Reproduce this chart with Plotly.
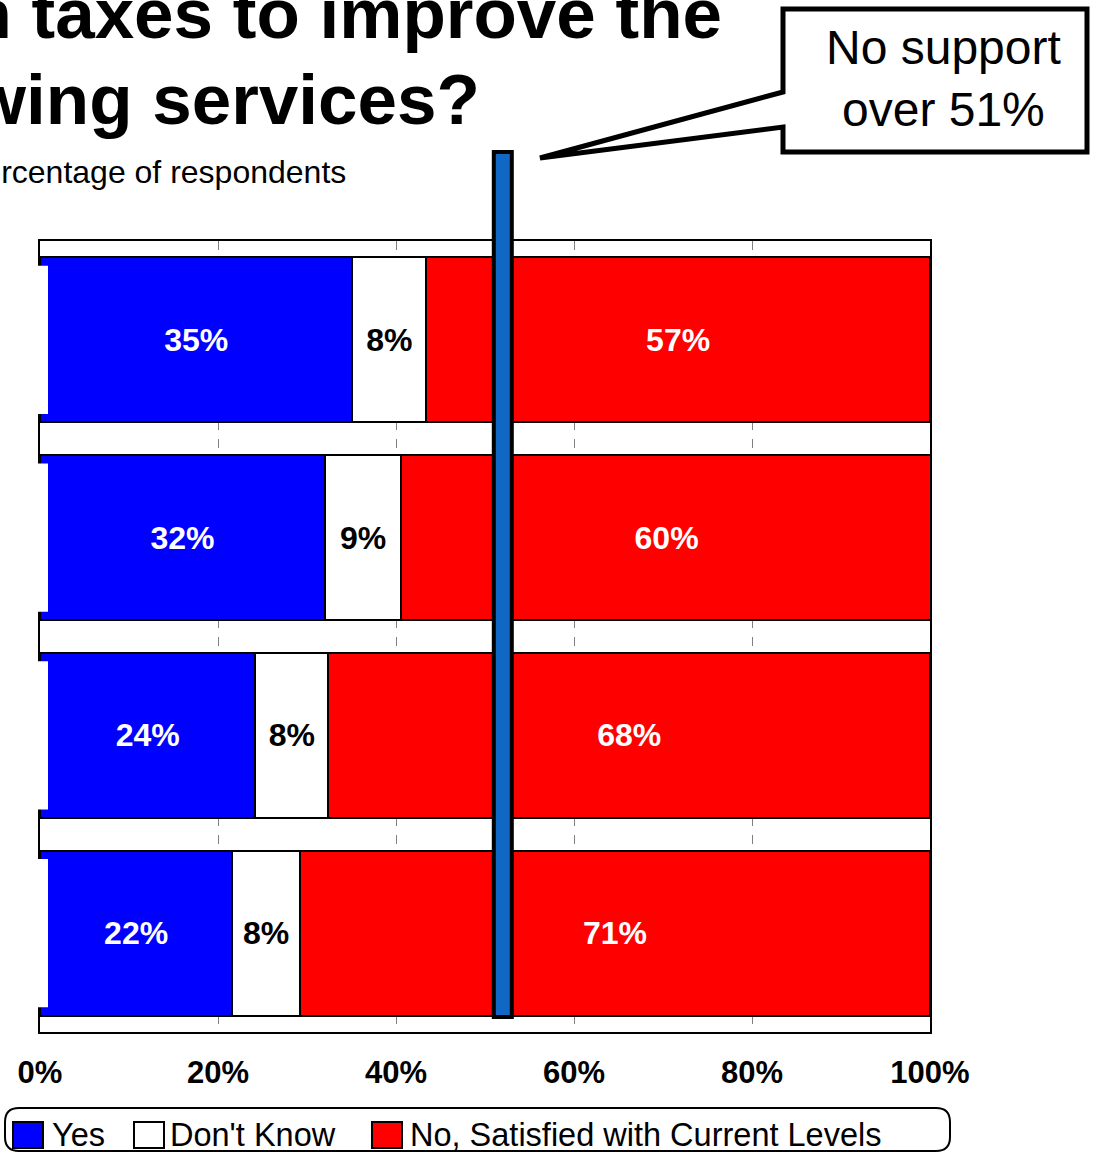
import plotly.graph_objects as go

# ---------------- data ----------------
CATEGORIES = ["Service 1", "Service 2", "Service 3", "Service 4"]
SERIES = ["Yes", "Don't Know", "No, Satisfied with Current Levels"]
YES = [35.1, 32.0, 24.2, 21.6]
DONT_KNOW = [8.3, 8.6, 8.2, 7.6]
NO = [56.6, 59.6, 67.6, 70.8]
COLORS = ["#0000FF", "#FFFFFF", "#FF0000"]
TEXT_COLORS = ["#FFFFFF", "#000000", "#FFFFFF"]
TICK_VALS = [0, 20, 40, 60, 80, 100]
TICK_TEXT = ["0%", "20%", "40%", "60%", "80%", "100%"]
THRESHOLD = 52  # position of the vertical marker line (percent)
TITLE_1 = "Would you support an increase in taxes to improve the"
TITLE_2 = "following services?"
SUBTITLE = "Percentage of respondents"
CALLOUT = "No support<br>over 51%"

FONT = "Liberation Sans, Arial, sans-serif"

# ---------------- geometry helpers (pixel -> paper) ----------------
W, H = 1099, 1153
L, R, T, B = 40, 930, 241, 1032
PW, PH = R - L, B - T


def px(x):
    return (x - L) / PW


def py(y):
    return (B - y) / PH


fig = go.Figure()
for name, vals, col, tcol in zip(SERIES, [YES, DONT_KNOW, NO], COLORS, TEXT_COLORS):
    fig.add_trace(go.Bar(
        name=name, y=CATEGORIES, x=vals, orientation="h",
        marker=dict(color=col, line=dict(color="black", width=2)),
        texttemplate="%{x:.0f}%", textposition="inside",
        insidetextanchor="middle", constraintext="none",
        textfont=dict(family=FONT, size=32, color=tcol, weight="bold"),
        showlegend=False, width=0.835,
    ))

fig.update_layout(
    barmode="stack",
    width=W, height=H,
    margin=dict(l=L, r=W - R, t=T, b=H - B, pad=0),
    paper_bgcolor="white", plot_bgcolor="white",
    font=dict(family=FONT, color="black"),
    xaxis=dict(range=[0, 100], tickvals=TICK_VALS, ticktext=TICK_TEXT,
               tickfont=dict(family=FONT, size=31, weight="bold", color="black"),
               showgrid=True, gridcolor="#808080", griddash="dash", gridwidth=1,
               showline=True, linecolor="black", linewidth=2, mirror=True,
               ticks="", ticklabelstandoff=12, zeroline=False),
    yaxis=dict(categoryorder="array", categoryarray=CATEGORIES, autorange="reversed",
               range=[3.5, -0.5], showticklabels=False, ticks="",
               showline=True, linecolor="black", linewidth=2, mirror=True,
               showgrid=False, zeroline=False),
)

shapes = []
# white patches covering the left edge of the bars
for i, c in enumerate(CATEGORIES):
    shapes.append(dict(type="rect", xref="paper", yref="y", x0=px(38), x1=px(48),
                       y0=i - 0.375, y1=i + 0.375, fillcolor="white",
                       line=dict(width=0), layer="above"))

# vertical threshold line
half = 9 / PW
shapes.append(dict(type="rect", xref="paper", yref="paper",
                   x0=THRESHOLD / 100 - half, x1=THRESHOLD / 100 + half,
                   y0=py(1017), y1=py(152), fillcolor="#1068C4",
                   line=dict(color="black", width=4), layer="above"))

# callout box with pointer
pts = [(783, 9), (1087, 9), (1087, 152), (783, 152), (783, 127), (540, 158), (783, 92)]
path = "M " + " L ".join(f"{px(x):.5f},{py(y):.5f}" for x, y in pts) + " Z"
shapes.append(dict(type="path", xref="paper", yref="paper", path=path,
                   fillcolor="white", line=dict(color="black", width=5), layer="above"))

# legend box (rounded)
x0, x1, y0, y1, r = 5, 950, 1108, 1151, 14
rp = [
    f"M {px(x0 + r)},{py(y0)}", f"L {px(x1 - r)},{py(y0)}",
    f"Q {px(x1)},{py(y0)} {px(x1)},{py(y0 + r)}", f"L {px(x1)},{py(y1 - r)}",
    f"Q {px(x1)},{py(y1)} {px(x1 - r)},{py(y1)}", f"L {px(x0 + r)},{py(y1)}",
    f"Q {px(x0)},{py(y1)} {px(x0)},{py(y1 - r)}", f"L {px(x0)},{py(y0 + r)}",
    f"Q {px(x0)},{py(y0)} {px(x0 + r)},{py(y0)}", "Z",
]
shapes.append(dict(type="path", xref="paper", yref="paper", path=" ".join(rp),
                   fillcolor="white", line=dict(color="black", width=2), layer="above"))

annotations = []
sq_x = [13, 134, 372]
txt_x = [50, 168, 408]
for name, col, sx, tx in zip(SERIES, COLORS, sq_x, txt_x):
    shapes.append(dict(type="rect", xref="paper", yref="paper",
                       x0=px(sx), x1=px(sx + 30), y0=py(1148), y1=py(1122),
                       fillcolor=col, line=dict(color="black", width=2), layer="above"))
    annotations.append(dict(xref="paper", yref="paper", x=px(tx), y=py(1135),
                            xanchor="left", yanchor="middle", showarrow=False,
                            text=name, font=dict(family=FONT, size=32.5, color="black")))

# titles
annotations.append(dict(xref="paper", yref="paper", x=px(724), y=py(14),
                        xanchor="right", yanchor="middle", showarrow=False,
                        text=TITLE_1, font=dict(family=FONT, size=71, weight="bold")))
annotations.append(dict(xref="paper", yref="paper", x=px(482), y=py(99),
                        xanchor="right", yanchor="middle", showarrow=False,
                        text=TITLE_2, font=dict(family=FONT, size=71, weight="bold")))
annotations.append(dict(xref="paper", yref="paper", x=px(348), y=py(172),
                        xanchor="right", yanchor="middle", showarrow=False,
                        text=SUBTITLE, font=dict(family=FONT, size=32)))
# callout text
annotations.append(dict(xref="paper", yref="paper", x=px(943), y=py(78),
                        xanchor="center", yanchor="middle", showarrow=False,
                        text=CALLOUT, font=dict(family=FONT, size=48)))

fig.update_layout(shapes=shapes, annotations=annotations)
fig.write_html("out.html")
